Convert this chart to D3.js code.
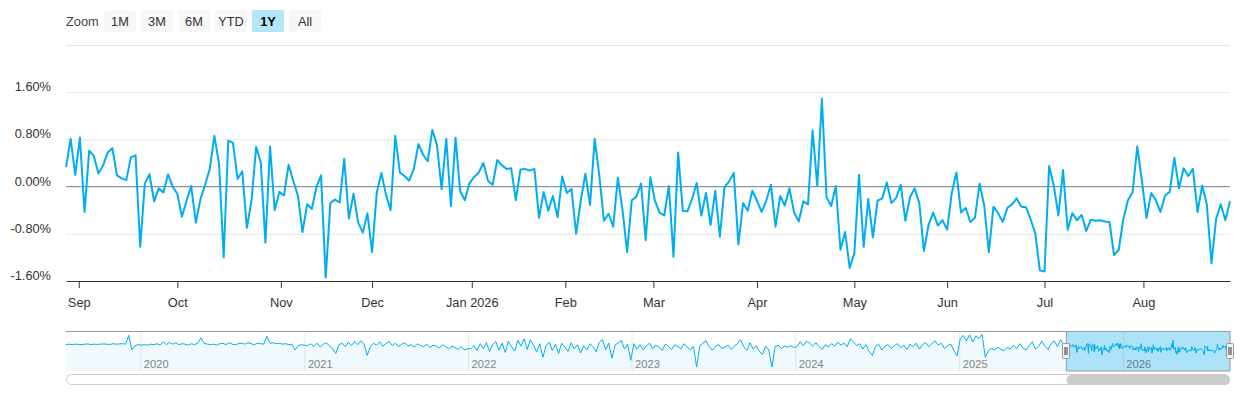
<!DOCTYPE html>
<html>
<head>
<meta charset="utf-8">
<script src="https://cdn.jsdelivr.net/npm/d3@7"></script>
<style>
  body { margin: 0; background: #fff; }
  svg { font-family: "Liberation Sans", Arial, Helvetica, sans-serif; }
</style>
</head>
<body>
<script>
// ---- data ----
const startDate = "2025-08-27";
const holidays = ["2025-09-01", "2025-11-27", "2025-12-25", "2026-01-01", "2026-01-19",
    "2026-02-16", "2026-04-03", "2026-05-25", "2026-06-19", "2026-07-03"];

// daily values (%), one per trading day
const returns = [
    0.33, 0.81, 0.20, 0.83, -0.43, 0.61, 0.52, 0.22, 0.36, 0.58,
    0.65, 0.19, 0.14, 0.11, 0.50, 0.53, -1.02, 0.05, 0.21, -0.25,
    -0.03, -0.10, 0.21, 0.00, -0.12, -0.51, -0.24, 0.01, -0.61, -0.21,
    0.03, 0.30, 0.86, 0.39, -1.20, 0.78, 0.74, 0.13, 0.26, -0.70,
    -0.24, 0.67,
    0.41, -0.95, 0.68, -0.40, -0.09, -0.15, 0.37, 0.10, -0.15, -0.77,
    -0.30, -0.38, -0.01, 0.19, -1.54, -0.28, -0.22, -0.27, 0.47, -0.54,
    -0.12, -0.61, -0.78, -0.45, -1.11, -0.11, 0.23, -0.14, -0.40, 0.86,
    0.24, 0.18, 0.10, 0.30, 0.72, 0.54, 0.43, 0.96, 0.70, -0.04,
    0.81, -0.33,
    0.83, -0.08, -0.23, 0.06, 0.16, 0.24, 0.40, 0.10, 0.03, 0.45,
    0.36, 0.30, 0.31, -0.23, 0.29, 0.30, 0.27, 0.30, -0.53, -0.09,
    -0.41, -0.16, -0.52, 0.17, -0.11, -0.04, -0.80, -0.24, 0.22, -0.31,
    0.81, 0.19, -0.58, -0.46, -0.68, 0.15, -0.39, -1.11, -0.23, -0.17,
    0.05, -0.91,
    0.16, -0.24, -0.44, -0.49, 0.01, -1.19, 0.58, -0.41, -0.42, -0.21,
    0.06, -0.49, -0.11, -0.65, -0.07, -0.85, -0.01, 0.09, 0.23, -0.98,
    -0.28, -0.41, -0.07, -0.24, -0.43, -0.24, 0.03, -0.68, -0.16, -0.32,
    -0.03, -0.44, -0.59, -0.25, -0.30, 0.95, 0.01, 1.49, -0.18, -0.33,
    0.01, -1.07,
    -0.77, -1.38, -1.13, 0.20, -1.02, -0.21, -0.86, -0.24, -0.20, 0.07,
    -0.28, -0.19, 0.03, -0.58, -0.18, -0.03, -0.28, -1.09, -0.65, -0.44,
    -0.66, -0.57, -0.73, -0.11, 0.24, -0.44, -0.36, -0.60, -0.53, 0.05,
    -0.32, -1.11, -0.34, -0.45, -0.60, -0.36, -0.30, -0.20, -0.34, -0.35,
    -0.55, -0.79,
    -1.42, -1.44, 0.35, 0.02, -0.49, 0.28, -0.73, -0.45, -0.57, -0.48,
    -0.75, -0.56, -0.58, -0.57, -0.59, -0.60, -1.16, -1.07, -0.55, -0.23,
    -0.09, 0.68, 0.10, -0.53, -0.11, -0.23, -0.43, -0.15, -0.09, 0.49,
    -0.03, 0.31, 0.18, 0.30, -0.43, 0.02, -0.30, -1.30, -0.55, -0.30,
    -0.57, -0.25
];

const yTicks = [-1.6, -0.8, 0, 0.8, 1.6, 2.4];
const yTickLabels = ["-1.60%", "-0.80%", "0.00%", "0.80%", "1.60%", ""];

const monthTicks = ["2025-09-01", "2025-10-01", "2025-11-01", "2025-12-01", "2026-01-01", "2026-02-01",
    "2026-03-01", "2026-04-01", "2026-05-01", "2026-06-01", "2026-07-01", "2026-08-01"];
const monthLabels = ["Sep", "Oct", "Nov", "Dec", "Jan 2026", "Feb", "Mar", "Apr", "May", "Jun", "Jul", "Aug"];

const zoomButtons = ["1M", "3M", "6M", "YTD", "1Y", "All"];
const selectedButton = "1Y";

// navigator history, weekly samples (%)
const navStart = "2019-07-18";
const nav2019 = [0.6, 0.7, 0.6, 0.7, 0.65, 0.6, 0.7, 0.75, 0.6, 0.7, 0.65, 0.7, 0.75, 0.7, 0.65, 0.8,
    0.7, 0.75, 0.8, 0.7, 2.5, -0.5, 0.4, 0.6];
const nav2020 = [0.5, 0.6, 0.5, 0.7, 0.6, 0.8, 0.5, 1.2, 0.6, 1.1, 0.7, 1.0, 0.6, 0.8, 0.7, 0.5, 0.8,
    0.6, 0.9, 2.0, 0.9, 0.7, 0.6, 0.7, 0.5, 0.8, 0.9, 0.6, 1.0, 0.7, 0.6, 0.8, 0.9, 0.7, 1.0, 0.8, 0.6,
    0.9, 0.8, 0.7, 2.3, 0.9, 1.0, 0.8, 0.9, 0.7, 0.8, 0.6, 0.7, -0.5, 0.4, 0.6, 0.5];
const nav2021 = [0.4, 0.8, 0.2, 0.9, 0.1, 0.7, 1.0, 0.3, -0.2, -1.2, 0.6, 0.9, 0.2, 1.1, 0.4, 1.3, 0.6,
    1.4, 0.8, -1.6, 0.2, 0.9, 0.5, 1.2, 0.3, 0.8, 1.3, 0.4, 0.9, 0.2, 0.7, 1.0, 0.3, 0.6, 0.1, 0.8, 0.4,
    0.2, 0.7, 0.0, 0.5, 0.3, -0.1, 0.6, 0.2, -0.3, 0.3, 0.0, -0.4, 0.2, -0.5, -0.2];
const nav2022 = [-0.3, 0.4, -0.6, 0.8, -0.2, 1.0, -0.8, 0.6, 1.2, -0.5, 0.9, -1.0, 1.3, 0.2, -0.7, 1.5,
    0.3, 1.8, -0.4, 1.6, 0.5, -0.9, 0.8, -2.0, 0.4, 1.1, -0.6, 0.7, -1.2, 0.9, 0.1, -0.8, 1.0, -0.3, 0.6,
    -1.1, 0.4, -0.5, 0.8, 0.2, -0.9, 1.1, 1.6, -0.4, 0.9, -2.2, 0.5, 1.0, 1.4, -0.3, 0.7, -2.6];
const nav2023 = [0.8, -0.3, 0.6, -0.5, 0.4, 0.9, -0.2, 0.5, 0.1, -0.6, 0.7, 0.3, -0.4, 0.6, 0.2, -0.3,
    0.8, 0.1, -0.5, 0.3, -4.0, 0.4, 0.9, 1.4, 0.2, -0.5, 0.3, 0.6, -0.2, 0.1, 0.5, -0.4, 0.3, 0.8, 1.6,
    0.2, -0.6, 1.0, -0.3, 0.4, -0.8, -1.4, 0.3, -0.5, -4.0, 0.2, 0.5, -0.2, 0.3, 0.1, 0.4, 0.0];
const nav2024 = [0.2, 1.2, 0.4, 1.3, 0.9, 0.3, 1.0, 0.2, -0.4, 0.6, 0.1, 0.8, 0.3, 1.1, 0.5, 0.9, 0.2,
    1.8, 1.2, 0.4, 0.8, -0.3, 0.6, -0.8, -1.6, 0.2, 0.7, -0.5, 0.3, 0.6, -0.2, 0.4, 0.8, 0.0, 0.5, -0.4,
    0.7, 0.2, 0.9, -0.3, 0.6, 1.0, 0.2, 0.8, 1.4, 0.5, 0.9, -0.2, 0.4, 0.7, -0.6, -1.7];
const nav2025 = [1.8, 2.5, 1.4, 2.6, 1.2, 2.4, 1.9, 2.7, -2.0, -0.6, -0.2, -0.5, 0.1, -0.4, -0.6, 0.0,
    -0.3, 0.5, -0.2, 0.8, -0.1, -0.5, 0.4, 1.2, -0.3, 0.2, 1.3, 0.3, -0.4, 0.9, 1.4, 0.2, 1.6, 0.6];
const navYears = ["2020", "2021", "2022", "2023", "2024", "2025", "2026"];

// ---- dates ----
const parse = d3.utcParse("%Y-%m-%d");
const fmt = d3.utcFormat("%Y-%m-%d");

let dates = [];
let day = parse(startDate);
while (dates.length < returns.length) {
    let wd = day.getUTCDay();
    if (wd !== 0 && wd !== 6 && !holidays.includes(fmt(day))) dates.push(day);
    day = d3.utcDay.offset(day, 1);
}
const n = returns.length;

// position of any date on the trading-day axis
function ordinalPos(t) {
    let i = d3.bisectRight(dates, t) - 1;
    if (i < 0) return 0;
    if (i >= n - 1) return n - 1;
    return i + (t - dates[i]) / (dates[i + 1] - dates[i]);
}

// ---- svg ----
let width = 1240, height = 400;
let margin = { top: 45, bottom: 281, left: 66, right: 1230 };
let fontSize = '12.8px';

let svg = d3.select('body')
    .append('svg')
    .attr('width', width)
    .attr('height', height);

// range selector
svg.append('text')
    .attr('x', 66)
    .attr('y', 26)
    .style('font-size', fontSize)
    .style('fill', '#444')
    .text('Zoom');

let btn = svg.selectAll('g.btn')
    .data(zoomButtons)
    .enter()
    .append('g')
    .attr('transform', (d, i) => `translate(${104 + i * 37},10)`);

btn.append('rect')
    .attr('width', 32)
    .attr('height', 22)
    .attr('rx', 2)
    .attr('fill', d => d === selectedButton ? '#b3e6f8' : '#f7f7f7');

btn.append('text')
    .attr('x', 16)
    .attr('y', 15.5)
    .attr('text-anchor', 'middle')
    .style('font-size', fontSize)
    .style('font-weight', d => d === selectedButton ? 'bold' : 'normal')
    .style('fill', d => d === selectedButton ? '#000' : '#333')
    .text(d => d);

// scales
let x = d3.scaleLinear().domain([0, n - 1]).range([margin.left, margin.right]);
let y = d3.scaleLinear().domain([-1.6, 2.4]).range([margin.bottom, margin.top]);

// y axis + grid
let yAxis = svg.append('g')
    .attr('transform', `translate(${margin.left},0)`)
    .call(d3.axisLeft(y)
        .tickValues(yTicks)
        .tickSize(-(margin.right - margin.left))
        .tickPadding(15)
        .tickFormat((d, i) => yTickLabels[i]));
yAxis.select('.domain').remove();
yAxis.selectAll('.tick line').attr('stroke', '#e6e6e6');
yAxis.selectAll('.tick text')
    .attr('dy', -1.5)
    .style('font-size', fontSize)
    .style('font-family', '"Liberation Sans", Arial, sans-serif')
    .style('fill', '#333');

// zero line
svg.append('line')
    .attr('x1', margin.left).attr('x2', margin.right)
    .attr('y1', y(0)).attr('y2', y(0))
    .attr('stroke', '#7b8b9a');

// x axis
let tickPos = monthTicks.map(s => ordinalPos(parse(s)));
let xAxis = svg.append('g')
    .attr('transform', `translate(0,${margin.bottom})`)
    .call(d3.axisBottom(x)
        .tickValues(tickPos)
        .tickSize(7)
        .tickSizeOuter(0)
        .tickPadding(10)
        .tickFormat((d, i) => monthLabels[i]));
xAxis.select('.domain').attr('stroke', '#333');
xAxis.selectAll('.tick line').attr('stroke', '#333');
xAxis.selectAll('.tick text')
    .style('font-size', fontSize)
    .style('font-family', '"Liberation Sans", Arial, sans-serif')
    .style('fill', '#333');

// main line
svg.append('path')
    .datum(returns)
    .attr('fill', 'none')
    .attr('stroke', '#00aeef')
    .attr('stroke-width', 2)
    .attr('stroke-linejoin', 'round')
    .attr('d', d3.line().x((d, i) => x(i)).y(d => y(d)));

// ---- navigator ----
let navTop = 331, navBottom = 371;
let history = [].concat(nav2019, nav2020, nav2021, nav2022, nav2023, nav2024, nav2025)
    .map((v, i) => ({ date: d3.utcDay.offset(parse(navStart), 7 * i), v: v }))
    .filter(d => d.date < dates[0]);
let navData = history.concat(returns.map((v, i) => ({ date: dates[i], v: v })));

let navX = d3.scaleUtc().domain([parse(navStart), dates[n - 1]]).range([margin.left, margin.right]);
let navY = d3.scaleLinear().domain([-4.6, 3.4]).range([370, navTop]);

let selLeft = navX(dates[0]), selRight = navX(dates[n - 1]);

svg.append('path')
    .datum(navData)
    .attr('fill', '#00aeef')
    .attr('fill-opacity', 0.06)
    .attr('d', d3.area().x(d => navX(d.date)).y0(navBottom).y1(d => navY(d.v)));

svg.append('rect')
    .attr('x', selLeft)
    .attr('y', navTop)
    .attr('width', selRight - selLeft)
    .attr('height', navBottom - navTop)
    .attr('fill', '#ade3f8');

let years = svg.append('g')
    .selectAll('g')
    .data(navYears)
    .enter()
    .append('g')
    .attr('transform', d => `translate(${navX(parse(d + '-01-01'))},0)`);
years.append('line')
    .attr('y1', navTop).attr('y2', navBottom)
    .attr('stroke', '#000').attr('stroke-opacity', 0.09);
years.append('text')
    .attr('x', 3)
    .attr('y', 368)
    .style('font-size', '11.2px')
    .style('fill', '#333')
    .style('opacity', 0.6)
    .text(d => d);

svg.append('path')
    .datum(navData)
    .attr('fill', 'none')
    .attr('stroke', '#00aeef')
    .attr('stroke-width', 1)
    .attr('d', d3.line().x(d => navX(d.date)).y(d => navY(d.v)));

// outline
svg.append('path')
    .attr('fill', 'none')
    .attr('stroke', '#999')
    .attr('d', `M${margin.left},${navTop + 0.5}H${margin.right}` +
        `M${selLeft},${navTop}V${navBottom}H${selRight}V${navTop}`);

// handles
let handle = svg.selectAll('g.handle')
    .data([selLeft, selRight])
    .enter()
    .append('g')
    .attr('transform', d => `translate(${Math.round(d) - 4},343)`);
handle.append('rect')
    .attr('x', 0.5).attr('y', 0.5)
    .attr('width', 7).attr('height', 15)
    .attr('rx', 1)
    .attr('fill', '#f2f2f2')
    .attr('stroke', '#999');
handle.append('path')
    .attr('stroke', '#333')
    .attr('d', 'M3,4V12M5,4V12');

// scrollbar
svg.append('rect')
    .attr('x', margin.left + 0.5)
    .attr('y', 374.5)
    .attr('width', margin.right - margin.left - 1)
    .attr('height', 10)
    .attr('rx', 5)
    .attr('fill', '#fff')
    .attr('stroke', '#ccc');
svg.append('rect')
    .attr('x', selLeft)
    .attr('y', 375)
    .attr('width', selRight - selLeft)
    .attr('height', 10)
    .attr('rx', 5)
    .attr('fill', '#ccc');
</script>
</body>
</html>
